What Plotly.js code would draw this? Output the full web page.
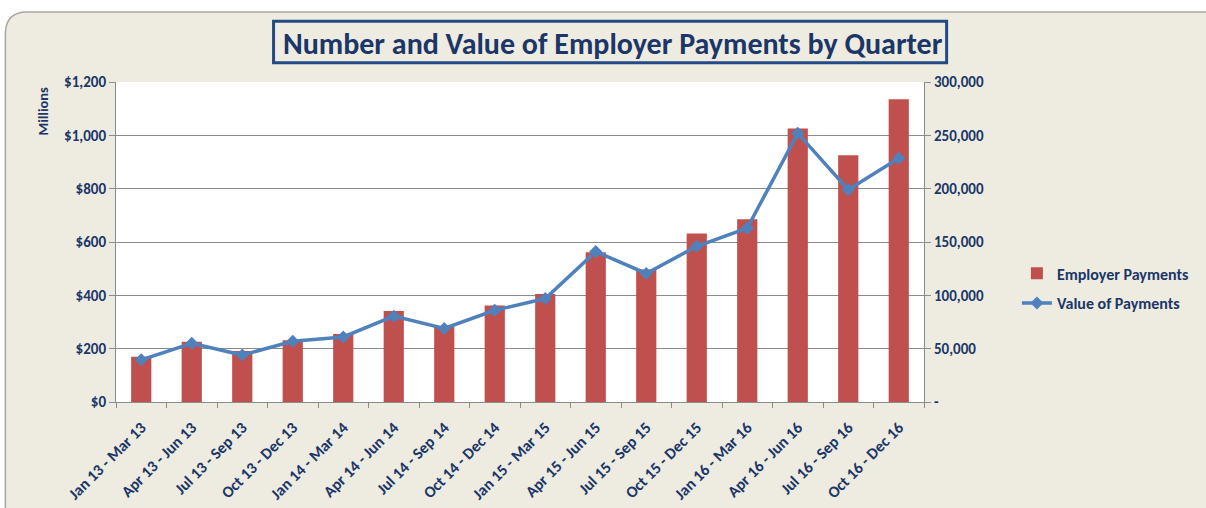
<!DOCTYPE html>
<html>
<head>
<meta charset="utf-8">
<script src="https://cdn.plot.ly/plotly-3.0.1.min.js"></script>
<style>html,body{margin:0;padding:0;background:#fff;}#chart{width:1206px;height:508px;}</style>
</head>
<body>
<div id="chart"></div>
<script>
const quarters = ["Jan 13 - Mar 13","Apr 13 - Jun 13","Jul 13 - Sep 13","Oct 13 - Dec 13",
  "Jan 14 - Mar 14","Apr 14 - Jun 14","Jul 14 - Sep 14","Oct 14 - Dec 14",
  "Jan 15 - Mar 15","Apr 15 - Jun 15","Jul 15 - Sep 15","Oct 15 - Dec 15",
  "Jan 16 - Mar 16","Apr 16 - Jun 16","Jul 16 - Sep 16","Oct 16 - Dec 16"];
// Employer Payments (bars, left axis, $ millions)
const employerPayments = [170,226,191,232,255,341,282,362,405,562,497,632,685,1026,925,1135];
// Value of Payments (line, right axis)
const valueOfPayments = [39500,55000,44000,57000,61000,80500,69000,86000,97000,141000,120500,146000,163000,252000,199000,228500];
const leftTickVals = [0,200,400,600,800,1000,1200];
const leftTickText = ["$0","$200","$400","$600","$800","$1,000","$1,200"];
const rightTickVals = [0,50000,100000,150000,200000,250000,300000];
const rightTickText = ["-","50,000","100,000","150,000","200,000","250,000","300,000"];

const FONT = "Carlito, Calibri, Lato, 'Open Sans', sans-serif";
const NAVY = "#1B3668";
const GRID = "#8C8C8C";

const traces = [
  {type:"bar", name:"Employer Payments", x:quarters, y:employerPayments,
   marker:{color:"#C0504D"}, yaxis:"y", legendgroup:"a"},
  {type:"scatter", mode:"lines+markers", name:"Value of Payments", x:quarters, y:valueOfPayments,
   line:{color:"#4F81BD", width:3.5}, marker:{symbol:"diamond", size:10, color:"#4F81BD"},
   yaxis:"y2", legendgroup:"b"}
];

const layout = {
  width:1206, height:508,
  margin:{l:116, r:279, t:82, b:106},
  paper_bgcolor:"#ffffff",
  plot_bgcolor:"rgba(0,0,0,0)",
  font:{family:FONT, color:NAVY, size:15},
  title:{text:"Number and Value of Employer Payments by Quarter", x:0.508, xanchor:"center",
         y:0.915, yanchor:"middle", yref:"container",
         font:{family:FONT, size:30, color:NAVY, weight:"bold"}},
  bargap:0.6,
  showlegend:true,
  legend:{x:1.115, y:0.355, xanchor:"left", yanchor:"middle", bgcolor:"rgba(0,0,0,0)",
          traceorder:"grouped", tracegroupgap:6,
          font:{family:FONT, size:16, color:NAVY, weight:"bold"}},
  xaxis:{type:"category", range:[-0.5,15.5], tickangle:-45, showgrid:false, showline:true,
         linecolor:GRID, linewidth:1, ticks:"outside", tickson:"boundaries", ticklen:5, tickcolor:GRID,
         ticklabelstandoff:9,
         tickfont:{family:FONT, size:16, color:NAVY, weight:"bold"}, zeroline:false},
  yaxis:{range:[0,1200], tickvals:leftTickVals, ticktext:leftTickText, showgrid:true, gridcolor:GRID,
         gridwidth:1, showline:true, linecolor:GRID, ticks:"outside", ticklen:6, tickcolor:GRID,
         tickfont:{family:FONT, size:15, color:NAVY, weight:"bold"}, zeroline:false},
  yaxis2:{range:[0,300000], overlaying:"y", side:"right", tickvals:rightTickVals, ticktext:rightTickText,
          showgrid:false, showline:true, linecolor:GRID, ticks:"outside", ticklen:6, tickcolor:GRID,
          tickfont:{family:FONT, size:15, color:NAVY, weight:"bold"}, zeroline:false},
  shapes:[
    {type:"path", xref:"paper", yref:"paper", layer:"below",
     path:"M -0.1369,1.15 Q -0.1369,1.21875 -0.11,1.21875 L 1.4,1.21875 L 1.4,-0.4 L -0.1369,-0.4 Z",
     fillcolor:"#EEECE1", line:{color:"#A6A6A6", width:1.5}},
    {type:"rect", xref:"paper", yref:"paper", layer:"below", x0:0, x1:1, y0:0, y1:1,
     fillcolor:"#ffffff", line:{width:0}},
    {type:"rect", xref:"paper", yref:"paper", layer:"above", x0:0.195, x1:1.028, y0:1.06, y1:1.19,
     fillcolor:"rgba(0,0,0,0)", line:{color:"#244A85", width:3}}
  ],
  annotations:[
    {text:"Millions", xref:"paper", yref:"paper", x:-0.09, y:0.99, xanchor:"center", yanchor:"top",
     textangle:-90, showarrow:false, font:{family:FONT, size:14.5, color:NAVY, weight:"bold"}}
  ]
};

Plotly.newPlot("chart", traces, layout, {displayModeBar:false, staticPlot:true});
</script>
</body>
</html>
